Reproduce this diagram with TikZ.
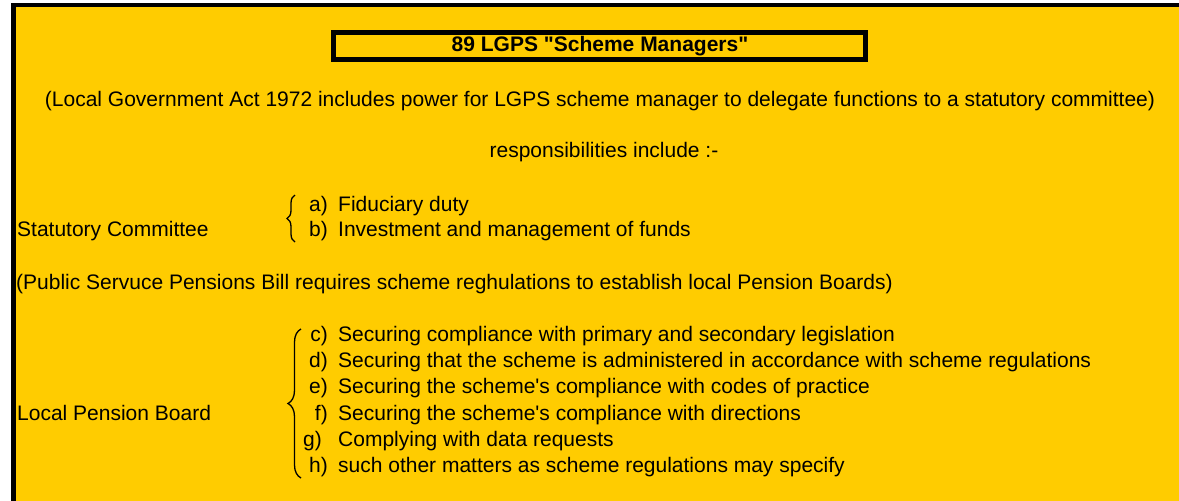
\documentclass[tikz,border=0pt]{standalone}
\usepackage{fontspec}
\setmainfont{Liberation Sans}[Ligatures=TeXOff]
\usetikzlibrary{decorations.pathreplacing}
\definecolor{sheetgold}{RGB}{255,204,0}
\begin{document}
\begin{tikzpicture}[x=1pt,y=-1pt,line join=miter,font=\fontsize{21}{25}\selectfont,
    txt/.style={inner sep=0pt,anchor=base west},
    lbl/.style={inner sep=0pt,anchor=base east},
    mid/.style={inner sep=0pt,anchor=base},
    curly/.style={decorate,decoration={brace,amplitude=#1},line width=1.3pt}]
    \useasboundingbox (0,0) rectangle (1179,501);
    \fill[sheetgold] (13.5,5) rectangle (1179,501);
    \draw[line width=4.6pt] (13.5,501) -- (13.5,5) -- (1179,5);
    % heading box
    \draw[line width=4.5pt] (333.3,32.3) rectangle (865.7,59.7);
    \node[mid,font=\fontsize{21}{25}\selectfont\bfseries] (title) at (600,51) {89 LGPS "Scheme Managers"};
    \node[mid] (act) at (600,106) {(Local Government Act 1972 includes power for LGPS scheme manager to delegate functions to a statutory committee)};
    \node[mid] (resp) at (604,157) {responsibilities include :-};
    % statutory committee
    \node[txt] (stat) at (17,236.5) {Statutory Committee};
    \node[lbl] (la) at (328,211) {a)};
    \node[txt] (ia) at (338,211) {Fiduciary duty};
    \node[lbl] (lb) at (328,236.5) {b)};
    \node[txt] (ib) at (338,236.5) {Investment and management of funds};
    \coordinate (sctop) at (295,195);
    \coordinate (scbot) at (295,242);
    \draw[curly=8pt] (scbot) -- (sctop);
    \node[txt] (bill) at (16,289) {(Public Servuce Pensions Bill requires scheme reghulations to establish local Pension Boards)};
    % local pension board
    \node[txt] (lpb) at (17,420) {Local Pension Board};
    \node[lbl] (lc) at (328,341.5) {c)};
    \node[txt] (ic) at (338,341.5) {Securing compliance with primary and secondary legislation};
    \node[lbl] (ld) at (328,367) {d)};
    \node[txt] (id) at (338,367) {Securing that the scheme is administered in accordance with scheme regulations};
    \node[lbl] (le) at (328,393) {e)};
    \node[txt] (ie) at (338,393) {Securing the scheme's compliance with codes of practice};
    \node[lbl] (lf) at (328,420) {f)};
    \node[txt] (if) at (338,420) {Securing the scheme's compliance with directions};
    \node[lbl] (lg) at (322,446) {g)};
    \node[txt] (ig) at (338,446) {Complying with data requests};
    \node[lbl] (lh) at (328,472) {h)};
    \node[txt] (ih) at (338,472) {such other matters as scheme regulations may specify};
    \coordinate (pbtop) at (301,329);
    \coordinate (pbbot) at (301,478);
    \draw[curly=13pt] (pbbot) -- (pbtop);
\end{tikzpicture}
\end{document}
